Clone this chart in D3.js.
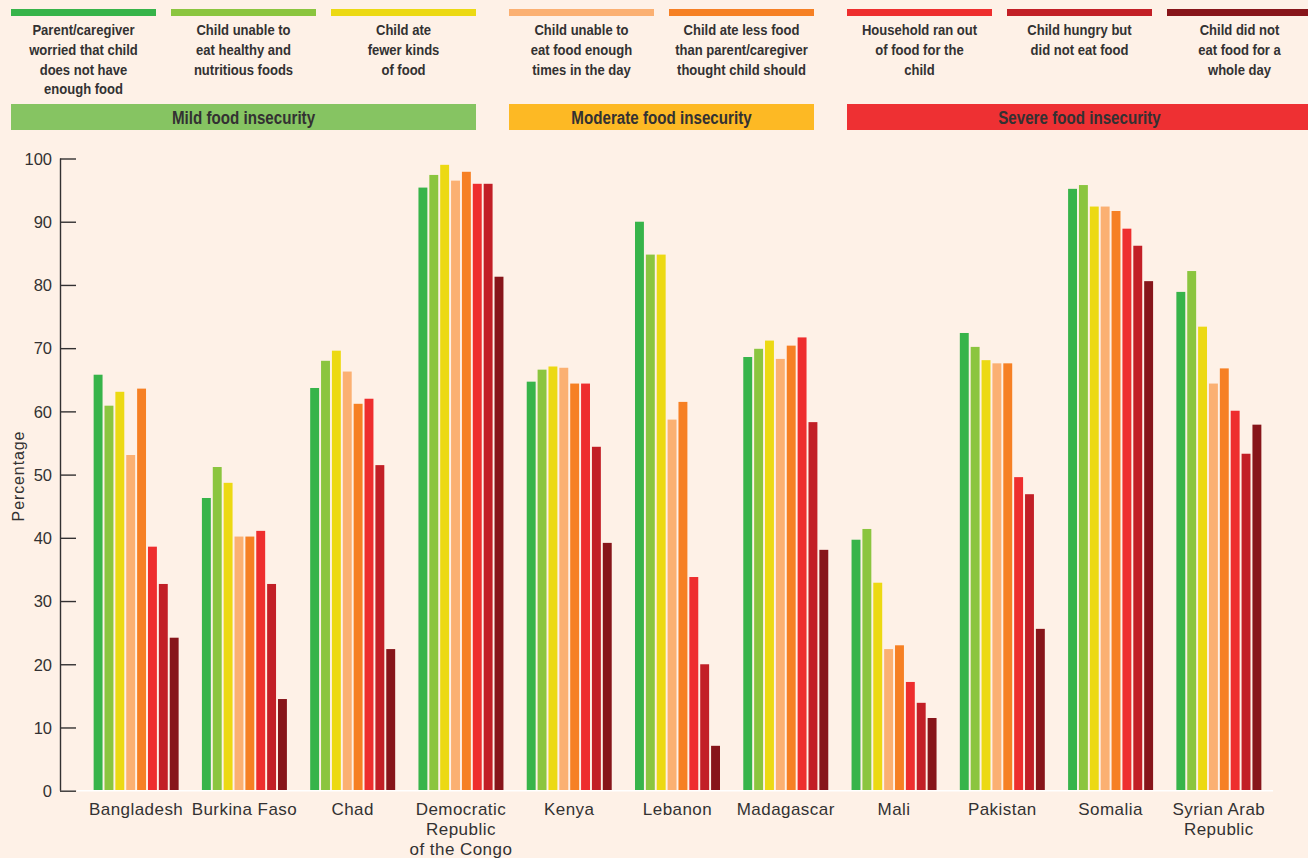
<!DOCTYPE html>
<html><head><meta charset="utf-8">
<script src="https://cdn.jsdelivr.net/npm/d3@7"></script>
<style>
html,body{margin:0;padding:0;background:#fef1e7;}
svg{display:block;}
</style></head>
<body>
<svg id="chart" width="1308" height="858"></svg>
<script>
// ---- data ----
const countries = ["Bangladesh","Burkina Faso","Chad","Democratic Republic of the Congo","Kenya","Lebanon","Madagascar","Mali","Pakistan","Somalia","Syrian Arab Republic"];
const countryLabels = [["Bangladesh"],["Burkina Faso"],["Chad"],["Democratic","Republic","of the Congo"],["Kenya"],["Lebanon"],["Madagascar"],["Mali"],["Pakistan"],["Somalia"],["Syrian Arab","Republic"]];
const seriesLines = [
  ["Parent/caregiver","worried that child","does not have","enough food"],
  ["Child unable to","eat healthy and","nutritious foods"],
  ["Child ate","fewer kinds","of food"],
  ["Child unable to","eat food enough","times in the day"],
  ["Child ate less food","than parent/caregiver","thought child should"],
  ["Household ran out","of food for the","child"],
  ["Child hungry but","did not eat food"],
  ["Child did not","eat food for a","whole day"]
];
// series values, in country order
const worried       = [65.8, 46.3, 63.7, 95.4, 64.7, 90.0, 68.6, 39.7, 72.4, 95.2, 78.9];
const unableHealthy = [60.9, 51.2, 68.0, 97.4, 66.6, 84.8, 69.9, 41.4, 70.2, 95.8, 82.2];
const fewerKinds    = [63.1, 48.7, 69.6, 99.0, 67.1, 84.8, 71.2, 32.9, 68.1, 92.4, 73.4];
const notEnoughTimes= [53.1, 40.2, 66.3, 96.5, 66.9, 58.7, 68.3, 22.4, 67.6, 92.4, 64.4];
const ateLess       = [63.6, 40.2, 61.2, 97.9, 64.4, 61.5, 70.4, 23.0, 67.6, 91.7, 66.8];
const ranOut        = [38.6, 41.1, 62.0, 96.0, 64.4, 33.8, 71.7, 17.2, 49.6, 88.9, 60.1];
const hungryNotEat  = [32.7, 32.7, 51.5, 96.0, 54.4, 20.0, 58.3, 13.9, 46.9, 86.2, 53.3];
const wholeDay      = [24.2, 14.5, 22.4, 81.3, 39.2,  7.1, 38.1, 11.5, 25.6, 80.6, 57.9];
const seriesValues = [worried, unableHealthy, fewerKinds, notEnoughTimes, ateLess, ranOut, hungryNotEat, wholeDay];
const seriesColors = ["#37b44a","#8bc53f","#ecd913","#fbb072","#f68024","#ee2e2e","#c21f26","#87151a"];
const yTicks = [0,10,20,30,40,50,60,70,80,90,100];
const groupNames = ["Mild food insecurity","Moderate food insecurity","Severe food insecurity"];
const groupSeries = [[0,1,2],[3,4],[5,6,7]];
const groupColors = ["#86c462","#fdb924","#ee3033"];

const svg = d3.select("#chart");
const W = 1308, H = 858;
svg.append("rect").attr("width",W).attr("height",H).attr("fill","#fef1e7");

const textColor = "#333132";
const headFont = "'Liberation Sans',Arial,sans-serif";
const bodyFont = "'Liberation Sans',Arial,sans-serif";

// ---- legend header ----
const itemW = 145;
let cx = 11;
groupSeries.forEach((g, gi) => {
  const gStart = cx;
  g.forEach(si => {
    svg.append("rect").attr("x",cx).attr("y",9).attr("width",itemW).attr("height",7).attr("fill",seriesColors[si]);
    const mid = cx + itemW/2;
    const t = svg.append("text").attr("text-anchor","middle").attr("font-family",headFont)
      .attr("font-weight","bold").attr("font-size",15).attr("fill",textColor)
      .attr("transform",`translate(${mid},0) scale(0.87,1)`);
    seriesLines[si].forEach((ln, li) => {
      t.append("tspan").attr("x",0).attr("y",35+li*19.8).text(ln);
    });
    cx += itemW + 15;
  });
  const gEnd = cx - 15;
  const bandEnd = gi === groupSeries.length-1 ? W : gEnd;
  svg.append("rect").attr("x",gStart).attr("y",104).attr("width",bandEnd-gStart).attr("height",26).attr("fill",groupColors[gi]);
  svg.append("text").attr("text-anchor","middle")
    .attr("transform",`translate(${gStart+(gEnd-gStart)/2},123.5) scale(0.82,1)`)
    .attr("font-family",headFont).attr("font-weight","bold").attr("font-size",18.5).attr("fill",textColor)
    .text(groupNames[gi]);
  cx += 18;
});

// ---- scales ----
const y = d3.scaleLinear().domain([0,100]).range([790.7,158.5]);
const x0 = d3.scaleBand().domain(countries).range([82,1273]).paddingInner(0.215).paddingOuter(0.1075);
const x1 = d3.scaleBand().domain(d3.range(8)).range([0,x0.bandwidth()]).paddingInner(0.18);

// ---- bars ----
const groups = svg.append("g").selectAll("g").data(countries).join("g")
  .attr("transform", d => `translate(${x0(d)},0)`);
groups.selectAll("rect").data((c, ci) => seriesValues.map((arr, si) => ({si, v: arr[ci]})))
  .join("rect")
  .attr("x", d => x1(d.si)).attr("width", x1.bandwidth())
  .attr("y", d => y(d.v)).attr("height", d => y(0) - y(d.v))
  .attr("fill", d => seriesColors[d.si]);

// baseline
svg.append("line").attr("x1",77).attr("x2",1273).attr("y1",y(0)).attr("y2",y(0))
  .attr("stroke","#ffffff").attr("stroke-width",1.5);

// ---- y axis ----
const yAxis = d3.axisRight(y).tickValues(yTicks).tickSize(16).tickFormat(d3.format("d"));
const ya = svg.append("g").attr("transform","translate(60,0)").call(yAxis);
ya.select(".domain").attr("stroke",textColor).attr("stroke-width",1.4).attr("d",`M0.5,${y(100)}V${y(0)}`);
ya.selectAll(".tick line").attr("stroke",textColor).attr("stroke-width",1.4);
ya.selectAll(".tick text").attr("x",-8).attr("text-anchor","end").attr("dy","0.35em")
  .attr("font-family",bodyFont).attr("font-size",16.5).attr("fill",textColor);

svg.append("text").attr("transform","translate(24,476) rotate(-90)").attr("text-anchor","middle")
  .attr("font-family",bodyFont).attr("font-size",16).attr("letter-spacing",0.9).attr("fill",textColor).text("Percentage");

// ---- x labels ----
countries.forEach((c, ci) => {
  const t = svg.append("text").attr("text-anchor","middle").attr("font-family",bodyFont)
    .attr("font-size",17).attr("letter-spacing",0.45).attr("fill",textColor);
  countryLabels[ci].forEach((ln, li) => {
    t.append("tspan").attr("x", x0(c)+x0.bandwidth()/2).attr("y", 815+li*20).text(ln);
  });
});
</script>
</body></html>
